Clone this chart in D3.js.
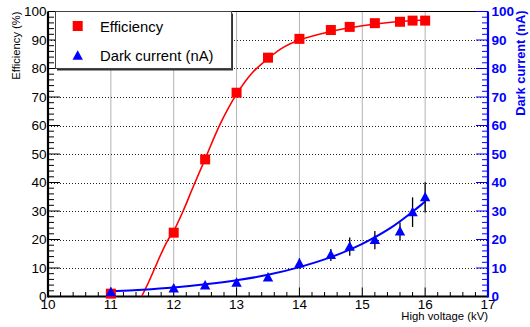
<!DOCTYPE html>
<html><head><meta charset="utf-8">
<script src="https://cdn.jsdelivr.net/npm/d3@7"></script>
<style>
html,body{margin:0;padding:0;background:#fff;}
svg{display:block;}
text{font-family:"Liberation Sans",Arial,Helvetica,sans-serif;}
</style></head>
<body>
<svg id="c" width="530" height="327"></svg>
<script>
// ---- data ----
const hv = [11, 12, 12.5, 13, 13.5, 14, 14.5, 14.8, 15.2, 15.6, 15.8, 16];
const efficiency = [1.0, 22.4, 48.1, 71.5, 83.8, 90.4, 93.5, 94.6, 95.9, 96.4, 96.8, 96.8];
const darkCurrent = [1.5, 2.8, 3.9, 4.8, 6.7, 11.6, 14.6, 17.5, 19.8, 22.8, 29.6, 34.8];
const darkErr = [0.3, 0.4, 0.6, 0.7, 1.0, 1.8, 2.1, 3.2, 3.2, 3.2, 5.2, 5.3];
const effFitHV = [11.49, 11.6, 11.7, 11.8, 11.9, 12, 12.15, 12.3, 12.5, 12.75, 13, 13.25, 13.5, 13.75, 14, 14.5, 15, 15.5, 16];
const effFitVal = [0, 5, 10, 15, 19.5, 23, 30, 38, 48.3, 61, 71, 78.5, 83.5, 87.5, 90, 93, 95, 96.3, 97];
const dcFitHV = [11, 11.5, 12, 12.5, 13, 13.5, 14, 14.5, 15, 15.5, 16];
const dcFitVal = [1.8, 2.4, 3.2, 4.3, 5.7, 7.6, 10.3, 13.8, 18.5, 24.8, 33.3];
const xTickLabels = ["10","11","12","13","14","15","16","17"];
const yTickLabels = ["0","10","20","30","40","50","60","70","80","90","100"];
const legendLabels = ["Efficiency", "Dark current (nA)"];

// ---- layout ----
const L = 48, R = 488, T = 11.5, B = 296.5;
const svg = d3.select("#c");
const x = d3.scaleLinear().domain([10, 17]).range([L, R]);
const y = d3.scaleLinear().domain([0, 100]).range([B, T]);
const y2 = d3.scaleLinear().domain([0, 100]).range([B, T]);
const RED = "#ff0000", BLUE = "#0000ff";

svg.append("defs").append("clipPath").attr("id","clip")
  .append("rect").attr("x", L).attr("y", T).attr("width", R-L).attr("height", B-T);

// grid
const xMajor = xTickLabels.map(Number);
const yMajor = yTickLabels.map(Number);
const grid = svg.append("g");
grid.selectAll("line.v").data(xMajor.filter(v => v > 10 && v < 17)).join("line")
  .attr("x1", d => x(d)).attr("x2", d => x(d)).attr("y1", B).attr("y2", T)
  .attr("stroke", "#666").attr("stroke-width", 1).attr("stroke-dasharray", "1 1");
grid.selectAll("line.h").data(yMajor.filter(v => v > 0 && v < 100)).join("line")
  .attr("x1", L).attr("x2", R).attr("y1", d => Math.round(y(d))+0.5).attr("y2", d => Math.round(y(d))+0.5)
  .attr("stroke", "#222").attr("stroke-width", 1).attr("stroke-dasharray", "1 2");

// top frame
svg.append("line").attr("x1", L).attr("x2", R).attr("y1", T).attr("y2", T).attr("stroke", "#000").attr("stroke-width", 1);

// ticks
const xMinor = d3.range(10, 17.001, 0.2).filter(v => Math.abs(v - Math.round(v)) > 1e-6);
const yMinor = d3.range(0, 100.001, 2).filter(v => v % 10 !== 0);
const tk = svg.append("g").attr("stroke-width", 1);
tk.selectAll("line.xM").data(xMajor).join("line")
  .attr("x1", d => x(d)).attr("x2", d => x(d)).attr("y1", B).attr("y2", B - 9).attr("stroke", "#000");
tk.selectAll("line.xm").data(xMinor).join("line")
  .attr("x1", d => x(d)).attr("x2", d => x(d)).attr("y1", B).attr("y2", B - 4.5).attr("stroke", "#000");
tk.selectAll("line.yM").data(yMajor).join("line")
  .attr("x1", L).attr("x2", L + 12).attr("y1", d => y(d)).attr("y2", d => y(d)).attr("stroke", "#000");
tk.selectAll("line.ym").data(yMinor).join("line")
  .attr("x1", L).attr("x2", L + 6).attr("y1", d => y(d)).attr("y2", d => y(d)).attr("stroke", "#000");
tk.selectAll("line.y2M").data(yMajor).join("line")
  .attr("x1", R).attr("x2", R - 12).attr("y1", d => y2(d)).attr("y2", d => y2(d)).attr("stroke", BLUE);
tk.selectAll("line.y2m").data(yMinor).join("line")
  .attr("x1", R).attr("x2", R - 6).attr("y1", d => y2(d)).attr("y2", d => y2(d)).attr("stroke", BLUE);

// axes lines
svg.append("line").attr("x1", L).attr("x2", R).attr("y1", B).attr("y2", B).attr("stroke", "#000").attr("stroke-width", 2.2);
svg.append("line").attr("x1", L).attr("x2", L).attr("y1", T).attr("y2", B+1).attr("stroke", "#000").attr("stroke-width", 2.2);
svg.append("line").attr("x1", R).attr("x2", R).attr("y1", T).attr("y2", B+1).attr("stroke", BLUE).attr("stroke-width", 2.2);

// tick labels
svg.append("g").selectAll("text").data(xTickLabels).join("text")
  .attr("x", d => x(+d)).attr("y", 308.5).attr("text-anchor", "middle")
  .attr("font-size", 13.5).attr("fill", "#000").text(d => d);
svg.append("g").selectAll("text").data(yTickLabels).join("text")
  .attr("x", 46.5).attr("y", d => y(+d) + 4.8).attr("text-anchor", "end")
  .attr("font-size", 13.5).attr("fill", "#000").text(d => d);
svg.append("g").selectAll("text").data(yTickLabels).join("text")
  .attr("x", 491.5).attr("y", d => y2(+d) + 4.8).attr("text-anchor", "start")
  .attr("font-size", 13.5).attr("font-weight", "bold").attr("fill", BLUE).text(d => d);

// axis titles
svg.append("text").attr("transform", `translate(20,${T}) rotate(-90)`).attr("text-anchor", "end")
  .attr("font-size", 11.2).attr("fill", "#000").text("Efficiency (%)");
svg.append("text").attr("transform", `translate(525,${T-1}) rotate(-90)`).attr("text-anchor", "end")
  .attr("font-size", 12.8).attr("font-weight", "bold").attr("fill", BLUE).text("Dark current (nA)");
svg.append("text").attr("x", R).attr("y", 320).attr("text-anchor", "end")
  .attr("font-size", 11.3).attr("fill", "#000").text("High voltage (kV)");

// plot content
const plot = svg.append("g").attr("clip-path", "url(#clip)");
const line = d3.line().x(d => x(d[0])).y(d => y(d[1])).curve(d3.curveCatmullRom.alpha(0.5));
plot.append("path").datum(effFitHV.map((v, i) => [v, effFitVal[i]]))
  .attr("d", line).attr("fill", "none").attr("stroke", RED).attr("stroke-width", 1.6);
plot.append("path").datum(dcFitHV.map((v, i) => [v, dcFitVal[i]]))
  .attr("d", d3.line().x(d => x(d[0])).y(d => y2(d[1])).curve(d3.curveCatmullRom.alpha(0.5)))
  .attr("fill", "none").attr("stroke", BLUE).attr("stroke-width", 2);

// error bars
svg.append("g").selectAll("line").data(hv.map((v, i) => [v, darkCurrent[i], darkErr[i]])).join("line")
  .attr("x1", d => x(d[0])).attr("x2", d => x(d[0]))
  .attr("y1", d => y2(d[1] - d[2])).attr("y2", d => y2(d[1] + d[2]))
  .attr("stroke", "#000").attr("stroke-width", 1.3);

// markers
const sq = 10;
svg.append("g").selectAll("rect").data(hv.map((v, i) => [v, efficiency[i]])).join("rect")
  .attr("x", d => x(d[0]) - sq/2).attr("y", d => y(d[1]) - sq/2).attr("width", sq).attr("height", sq)
  .attr("fill", RED);
const tri = (cx, cy) => `M${cx},${cy-5.5}L${cx+5.2},${cy+4}L${cx-5.2},${cy+4}Z`;
svg.append("g").selectAll("path").data(hv.map((v, i) => [v, darkCurrent[i]])).join("path")
  .attr("d", d => tri(x(d[0]), y2(d[1]))).attr("fill", BLUE);

// legend
const lg = svg.append("g");
lg.append("rect").attr("x", 57).attr("y", 13.5).attr("width", 176).attr("height", 57).attr("fill", "#333");
lg.append("rect").attr("x", 55.5).attr("y", 11.5).attr("width", 176).attr("height", 57)
  .attr("fill", "#fff").attr("stroke", "#444").attr("stroke-width", 1);
lg.append("rect").attr("x", 77.7 - 5).attr("y", 26 - 5).attr("width", 10).attr("height", 10).attr("fill", RED);
lg.append("path").attr("d", tri(77.7, 55.8)).attr("fill", BLUE);
lg.selectAll("text").data(legendLabels).join("text")
  .attr("x", 100).attr("y", (d, i) => i === 0 ? 32.3 : 61)
  .attr("font-size", 14.8).attr("fill", "#000").text(d => d);
</script>
</body></html>
